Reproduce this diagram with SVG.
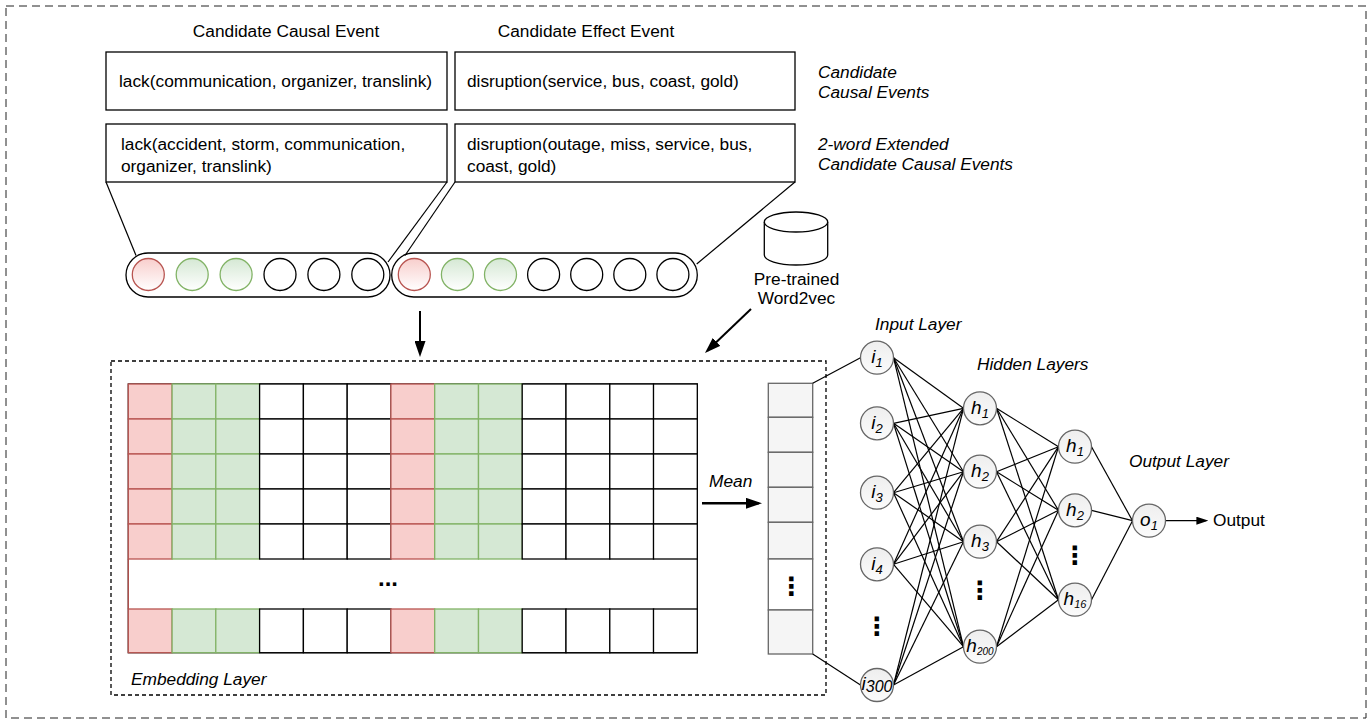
<svg xmlns="http://www.w3.org/2000/svg" width="1367" height="719" viewBox="0 0 1367 719">
<style>
text{font-family:"Liberation Sans",Arial,Helvetica,sans-serif;font-size:17.3px;fill:#000}
.it{font-style:italic}
.box{fill:#fff;stroke:#000;stroke-width:1.3}
.cap{fill:#fff;stroke:#000;stroke-width:1.3}
.cr{fill:url(#gr);stroke:#b85450;stroke-width:1.3}
.cg{fill:url(#gg);stroke:#82b366;stroke-width:1.3}
.cw{fill:#fff;stroke:#000;stroke-width:1.3}
.r{fill:#f8cecc;stroke:#b85450;stroke-width:1.3}
.g{fill:#d5e8d4;stroke:#82b366;stroke-width:1.3}
.w{fill:#fff;stroke:#000;stroke-width:1.3}
.mv{fill:#f5f5f5;stroke:#666;stroke-width:1.3}
.nn{fill:url(#gn);stroke:#666;stroke-width:1.3}
.ln{stroke:#000;stroke-width:1.2;fill:none}
.dots{font-family:"DejaVu Sans",sans-serif;font-weight:bold;font-size:25px}
.nl{font-style:italic;font-size:19px}
.sub{font-size:13px}
</style>
<defs>
<linearGradient id="gr" x1="0" y1="0" x2="0" y2="1"><stop offset="0" stop-color="#f8cecc"/><stop offset="1" stop-color="#ffffff"/></linearGradient>
<linearGradient id="gg" x1="0" y1="0" x2="0" y2="1"><stop offset="0" stop-color="#d5e8d4"/><stop offset="1" stop-color="#ffffff"/></linearGradient>
<linearGradient id="gn" x1="0" y1="0" x2="0" y2="1"><stop offset="0" stop-color="#eeeeee"/><stop offset="1" stop-color="#fbfbfb"/></linearGradient>
<marker id="ah" viewBox="0 0 10 10" refX="8" refY="5" markerWidth="16" markerHeight="11" markerUnits="userSpaceOnUse" orient="auto" preserveAspectRatio="none"><path d="M0,0 L10,5 L0,10 z" fill="#000"/></marker>
<marker id="ahs" viewBox="0 0 10 10" refX="8" refY="5" markerWidth="12" markerHeight="8" markerUnits="userSpaceOnUse" orient="auto" preserveAspectRatio="none"><path d="M0,0 L10,5 L0,10 z" fill="#000"/></marker>
</defs>
<rect x="6" y="6" width="1360" height="712" fill="#fff" stroke="#222" stroke-width="1" stroke-dasharray="8 5"/>

<g id="title-cause"><text x="286" y="36.5" text-anchor="middle">Candidate Causal Event</text></g>
<g id="title-effect"><text x="586" y="36.5" text-anchor="middle">Candidate Effect Event</text></g>

<g id="box-cause"><rect class="box" x="106" y="52" width="341" height="58"/><text x="119" y="87">lack(communication, organizer, translink)</text></g>
<g id="box-cause-ext"><rect class="box" x="106" y="124" width="341" height="58"/><text x="121" y="149.5">lack(accident, storm, communication,</text><text x="121" y="171.5">organizer, translink)</text></g>
<g id="box-effect"><rect class="box" x="455" y="52" width="340" height="58"/><text x="467" y="87">disruption(service, bus, coast, gold)</text></g>
<g id="box-effect-ext"><rect class="box" x="455" y="124" width="340" height="58"/><text x="467" y="149.5">disruption(outage, miss, service, bus,</text><text x="467" y="171.5">coast, gold)</text></g>

<g id="label-candidate"><text class="it" x="818" y="78">Candidate</text><text class="it" x="818" y="98">Causal Events</text></g>
<g id="label-extended"><text class="it" x="818" y="150">2-word Extended</text><text class="it" x="818" y="170">Candidate Causal Events</text></g>

<g id="capsule-cause">
<rect class="cap" x="126" y="253" width="264" height="44" rx="22"/>
<circle class="cr" cx="148.3" cy="274.5" r="16"/>
<circle class="cg" cx="192.2" cy="274.5" r="16"/>
<circle class="cg" cx="236.1" cy="274.5" r="16"/>
<circle class="cw" cx="280" cy="274.5" r="16"/>
<circle class="cw" cx="323.9" cy="274.5" r="16"/>
<circle class="cw" cx="367.8" cy="274.5" r="16"/>
</g>
<g id="capsule-effect">
<rect class="cap" x="391.7" y="253" width="305.6" height="44" rx="22"/>
<circle class="cr" cx="414.3" cy="274.5" r="16"/>
<circle class="cg" cx="457.4" cy="274.5" r="16"/>
<circle class="cg" cx="500.5" cy="274.5" r="16"/>
<circle class="cw" cx="543.6" cy="274.5" r="16"/>
<circle class="cw" cx="586.7" cy="274.5" r="16"/>
<circle class="cw" cx="629.8" cy="274.5" r="16"/>
<circle class="cw" cx="672.9" cy="274.5" r="16"/>
</g>

<g id="word2vec">
<path d="M764.3,222 L764.3,255 A31.7,10 0 0 0 827.7,255 L827.7,222" fill="#fff" stroke="#000" stroke-width="1.3"/>
<ellipse cx="796" cy="222" rx="31.7" ry="10" fill="#fff" stroke="#000" stroke-width="1.3"/>
<text x="796.5" y="285" text-anchor="middle">Pre-trained</text>
<text x="796.5" y="304" text-anchor="middle">Word2vec</text>
</g>

<g id="embedding-layer">
<rect x="111" y="361" width="715" height="334" fill="none" stroke="#000" stroke-width="1.3" stroke-dasharray="4 3"/>
<text class="it" x="131" y="685">Embedding Layer</text>
</g>

<g id="embedding-matrix">
<rect x="128.3" y="384" width="569" height="268.7" fill="#fff" stroke="#000" stroke-width="1.3"/>
<line x1="128.3" y1="559" x2="128.3" y2="609" stroke="#b85450" stroke-width="1.3"/>
<text x="388" y="586" text-anchor="middle" style="font-weight:bold;font-size:24px">...</text>
<g id="col0"><rect class="r" x="128.3" y="384" width="43.8" height="35"/><rect class="r" x="128.3" y="419" width="43.8" height="35"/><rect class="r" x="128.3" y="454" width="43.8" height="35"/><rect class="r" x="128.3" y="489" width="43.8" height="35"/><rect class="r" x="128.3" y="524" width="43.8" height="35"/><rect class="r" x="128.3" y="609" width="43.8" height="43.7"/></g>
<g id="col1"><rect class="g" x="172.1" y="384" width="43.8" height="35"/><rect class="g" x="172.1" y="419" width="43.8" height="35"/><rect class="g" x="172.1" y="454" width="43.8" height="35"/><rect class="g" x="172.1" y="489" width="43.8" height="35"/><rect class="g" x="172.1" y="524" width="43.8" height="35"/><rect class="g" x="172.1" y="609" width="43.8" height="43.7"/></g>
<g id="col2"><rect class="g" x="215.8" y="384" width="43.8" height="35"/><rect class="g" x="215.8" y="419" width="43.8" height="35"/><rect class="g" x="215.8" y="454" width="43.8" height="35"/><rect class="g" x="215.8" y="489" width="43.8" height="35"/><rect class="g" x="215.8" y="524" width="43.8" height="35"/><rect class="g" x="215.8" y="609" width="43.8" height="43.7"/></g>
<g id="col3"><rect class="w" x="259.6" y="384" width="43.8" height="35"/><rect class="w" x="259.6" y="419" width="43.8" height="35"/><rect class="w" x="259.6" y="454" width="43.8" height="35"/><rect class="w" x="259.6" y="489" width="43.8" height="35"/><rect class="w" x="259.6" y="524" width="43.8" height="35"/><rect class="w" x="259.6" y="609" width="43.8" height="43.7"/></g>
<g id="col4"><rect class="w" x="303.4" y="384" width="43.8" height="35"/><rect class="w" x="303.4" y="419" width="43.8" height="35"/><rect class="w" x="303.4" y="454" width="43.8" height="35"/><rect class="w" x="303.4" y="489" width="43.8" height="35"/><rect class="w" x="303.4" y="524" width="43.8" height="35"/><rect class="w" x="303.4" y="609" width="43.8" height="43.7"/></g>
<g id="col5"><rect class="w" x="347.2" y="384" width="43.8" height="35"/><rect class="w" x="347.2" y="419" width="43.8" height="35"/><rect class="w" x="347.2" y="454" width="43.8" height="35"/><rect class="w" x="347.2" y="489" width="43.8" height="35"/><rect class="w" x="347.2" y="524" width="43.8" height="35"/><rect class="w" x="347.2" y="609" width="43.8" height="43.7"/></g>
<g id="col6"><rect class="r" x="390.9" y="384" width="43.8" height="35"/><rect class="r" x="390.9" y="419" width="43.8" height="35"/><rect class="r" x="390.9" y="454" width="43.8" height="35"/><rect class="r" x="390.9" y="489" width="43.8" height="35"/><rect class="r" x="390.9" y="524" width="43.8" height="35"/><rect class="r" x="390.9" y="609" width="43.8" height="43.7"/></g>
<g id="col7"><rect class="g" x="434.7" y="384" width="43.8" height="35"/><rect class="g" x="434.7" y="419" width="43.8" height="35"/><rect class="g" x="434.7" y="454" width="43.8" height="35"/><rect class="g" x="434.7" y="489" width="43.8" height="35"/><rect class="g" x="434.7" y="524" width="43.8" height="35"/><rect class="g" x="434.7" y="609" width="43.8" height="43.7"/></g>
<g id="col8"><rect class="g" x="478.5" y="384" width="43.8" height="35"/><rect class="g" x="478.5" y="419" width="43.8" height="35"/><rect class="g" x="478.5" y="454" width="43.8" height="35"/><rect class="g" x="478.5" y="489" width="43.8" height="35"/><rect class="g" x="478.5" y="524" width="43.8" height="35"/><rect class="g" x="478.5" y="609" width="43.8" height="43.7"/></g>
<g id="col9"><rect class="w" x="522.2" y="384" width="43.8" height="35"/><rect class="w" x="522.2" y="419" width="43.8" height="35"/><rect class="w" x="522.2" y="454" width="43.8" height="35"/><rect class="w" x="522.2" y="489" width="43.8" height="35"/><rect class="w" x="522.2" y="524" width="43.8" height="35"/><rect class="w" x="522.2" y="609" width="43.8" height="43.7"/></g>
<g id="col10"><rect class="w" x="566" y="384" width="43.8" height="35"/><rect class="w" x="566" y="419" width="43.8" height="35"/><rect class="w" x="566" y="454" width="43.8" height="35"/><rect class="w" x="566" y="489" width="43.8" height="35"/><rect class="w" x="566" y="524" width="43.8" height="35"/><rect class="w" x="566" y="609" width="43.8" height="43.7"/></g>
<g id="col11"><rect class="w" x="609.8" y="384" width="43.8" height="35"/><rect class="w" x="609.8" y="419" width="43.8" height="35"/><rect class="w" x="609.8" y="454" width="43.8" height="35"/><rect class="w" x="609.8" y="489" width="43.8" height="35"/><rect class="w" x="609.8" y="524" width="43.8" height="35"/><rect class="w" x="609.8" y="609" width="43.8" height="43.7"/></g>
<g id="col12"><rect class="w" x="653.5" y="384" width="43.8" height="35"/><rect class="w" x="653.5" y="419" width="43.8" height="35"/><rect class="w" x="653.5" y="454" width="43.8" height="35"/><rect class="w" x="653.5" y="489" width="43.8" height="35"/><rect class="w" x="653.5" y="524" width="43.8" height="35"/><rect class="w" x="653.5" y="609" width="43.8" height="43.7"/></g>
</g>

<g id="mean-label"><text class="it" x="730.7" y="487" text-anchor="middle">Mean</text></g>

<g id="mean-vector">
<rect class="mv" x="768.3" y="383.3" width="44.4" height="34"/>
<rect class="mv" x="768.3" y="417.3" width="44.4" height="35"/>
<rect class="mv" x="768.3" y="452.3" width="44.4" height="35"/>
<rect class="mv" x="768.3" y="487.3" width="44.4" height="35"/>
<rect class="mv" x="768.3" y="522.3" width="44.4" height="36.7"/>
<rect x="768.3" y="559" width="44.4" height="51" fill="#fff" stroke="#666" stroke-width="1.3"/>
<rect class="mv" x="768.3" y="610" width="44.4" height="44"/>
<text class="dots" x="791.5" y="595" text-anchor="middle">⋮</text>
</g>

<g id="labels-nn">
<text class="it" x="875" y="330">Input Layer</text>
<text class="it" x="977" y="370">Hidden Layers</text>
<text class="it" x="1129" y="467">Output Layer</text>
<text x="1213" y="526">Output</text>
</g>

<g id="connectors">
<line class="ln" x1="106" y1="182" x2="136" y2="255.5"/>
<line class="ln" x1="447" y1="182" x2="388" y2="262"/>
<line class="ln" x1="455" y1="182" x2="405" y2="255.5"/>
<line class="ln" x1="795" y1="182" x2="696.7" y2="264"/>
<line x1="420" y1="311" x2="420" y2="353.8" stroke="#000" stroke-width="2" marker-end="url(#ah)"/>
<line x1="751" y1="309" x2="707.3" y2="350.8" stroke="#000" stroke-width="2" marker-end="url(#ah)"/>
<line x1="702" y1="503.3" x2="758.8" y2="503.3" stroke="#000" stroke-width="2.6" marker-end="url(#ah)"/>
<line x1="1165.5" y1="520.7" x2="1206" y2="520.7" stroke="#000" stroke-width="1.3" marker-end="url(#ahs)"/>
<line class="ln" x1="812.7" y1="383.3" x2="860.5" y2="357.7"/>
<line class="ln" x1="812.7" y1="654" x2="860.5" y2="685"/>
<line class="ln" x1="893.5" y1="357.7" x2="963.5" y2="408.3"/>
<line class="ln" x1="893.5" y1="357.7" x2="963.5" y2="471.7"/>
<line class="ln" x1="893.5" y1="357.7" x2="963.5" y2="541.7"/>
<line class="ln" x1="893.5" y1="357.7" x2="963.5" y2="646.7"/>
<line class="ln" x1="893.5" y1="423.3" x2="963.5" y2="408.3"/>
<line class="ln" x1="893.5" y1="423.3" x2="963.5" y2="471.7"/>
<line class="ln" x1="893.5" y1="423.3" x2="963.5" y2="541.7"/>
<line class="ln" x1="893.5" y1="423.3" x2="963.5" y2="646.7"/>
<line class="ln" x1="893.5" y1="492.7" x2="963.5" y2="408.3"/>
<line class="ln" x1="893.5" y1="492.7" x2="963.5" y2="471.7"/>
<line class="ln" x1="893.5" y1="492.7" x2="963.5" y2="541.7"/>
<line class="ln" x1="893.5" y1="492.7" x2="963.5" y2="646.7"/>
<line class="ln" x1="893.5" y1="564.3" x2="963.5" y2="408.3"/>
<line class="ln" x1="893.5" y1="564.3" x2="963.5" y2="471.7"/>
<line class="ln" x1="893.5" y1="564.3" x2="963.5" y2="541.7"/>
<line class="ln" x1="893.5" y1="564.3" x2="963.5" y2="646.7"/>
<line class="ln" x1="893.5" y1="685" x2="963.5" y2="408.3"/>
<line class="ln" x1="893.5" y1="685" x2="963.5" y2="471.7"/>
<line class="ln" x1="893.5" y1="685" x2="963.5" y2="541.7"/>
<line class="ln" x1="893.5" y1="685" x2="963.5" y2="646.7"/>
<line class="ln" x1="996.5" y1="408.3" x2="1058.5" y2="446.7"/>
<line class="ln" x1="996.5" y1="408.3" x2="1058.5" y2="510.3"/>
<line class="ln" x1="996.5" y1="408.3" x2="1058.5" y2="599.7"/>
<line class="ln" x1="996.5" y1="471.7" x2="1058.5" y2="446.7"/>
<line class="ln" x1="996.5" y1="471.7" x2="1058.5" y2="510.3"/>
<line class="ln" x1="996.5" y1="471.7" x2="1058.5" y2="599.7"/>
<line class="ln" x1="996.5" y1="541.7" x2="1058.5" y2="446.7"/>
<line class="ln" x1="996.5" y1="541.7" x2="1058.5" y2="510.3"/>
<line class="ln" x1="996.5" y1="541.7" x2="1058.5" y2="599.7"/>
<line class="ln" x1="996.5" y1="646.7" x2="1058.5" y2="446.7"/>
<line class="ln" x1="996.5" y1="646.7" x2="1058.5" y2="510.3"/>
<line class="ln" x1="996.5" y1="646.7" x2="1058.5" y2="599.7"/>
<line class="ln" x1="1091.5" y1="446.7" x2="1132.5" y2="520.7"/>
<line class="ln" x1="1091.5" y1="510.3" x2="1132.5" y2="520.7"/>
<line class="ln" x1="1091.5" y1="599.7" x2="1132.5" y2="520.7"/>
</g>

<g id="node-i1"><circle class="nn" cx="877" cy="357.7" r="16.5"/><text class="nl" x="877" y="363" text-anchor="middle">i<tspan class="sub" dy="4">1</tspan></text></g>
<g id="node-i2"><circle class="nn" cx="877" cy="423.3" r="16.5"/><text class="nl" x="877" y="428.6" text-anchor="middle">i<tspan class="sub" dy="4">2</tspan></text></g>
<g id="node-i3"><circle class="nn" cx="877" cy="492.7" r="16.5"/><text class="nl" x="877" y="498" text-anchor="middle">i<tspan class="sub" dy="4">3</tspan></text></g>
<g id="node-i4"><circle class="nn" cx="877" cy="564.3" r="16.5"/><text class="nl" x="877" y="569.6" text-anchor="middle">i<tspan class="sub" dy="4">4</tspan></text></g>
<g id="dots-input"><text class="dots" x="877" y="635" text-anchor="middle">⋮</text></g>
<g id="node-i300"><circle class="nn" cx="877" cy="685" r="16.5"/><text class="nl" x="877" y="690.3" text-anchor="middle">i<tspan dy="2" style="font-size:16px">300</tspan></text></g>

<g id="node-h1a"><circle class="nn" cx="980" cy="408.3" r="16.5"/><text class="nl" x="980" y="413.6" text-anchor="middle">h<tspan class="sub" dy="4">1</tspan></text></g>
<g id="node-h2a"><circle class="nn" cx="980" cy="471.7" r="16.5"/><text class="nl" x="980" y="477" text-anchor="middle">h<tspan class="sub" dy="4">2</tspan></text></g>
<g id="node-h3a"><circle class="nn" cx="980" cy="541.7" r="16.5"/><text class="nl" x="980" y="547" text-anchor="middle">h<tspan class="sub" dy="4">3</tspan></text></g>
<g id="dots-hidden1"><text class="dots" x="980" y="599" text-anchor="middle">⋮</text></g>
<g id="node-h200"><circle class="nn" cx="980" cy="646.7" r="16.5"/><text class="nl" x="980" y="652" text-anchor="middle">h<tspan dy="3" style="font-size:10px">200</tspan></text></g>

<g id="node-h1b"><circle class="nn" cx="1075" cy="446.7" r="16.5"/><text class="nl" x="1075" y="452" text-anchor="middle">h<tspan class="sub" dy="4">1</tspan></text></g>
<g id="node-h2b"><circle class="nn" cx="1075" cy="510.3" r="16.5"/><text class="nl" x="1075" y="515.6" text-anchor="middle">h<tspan class="sub" dy="4">2</tspan></text></g>
<g id="dots-hidden2"><text class="dots" x="1075" y="564" text-anchor="middle">⋮</text></g>
<g id="node-h16"><circle class="nn" cx="1075" cy="599.7" r="16.5"/><text class="nl" x="1075" y="605" text-anchor="middle">h<tspan dy="3" style="font-size:11px">16</tspan></text></g>

<g id="node-o1"><circle class="nn" cx="1149" cy="520.7" r="16.5"/><text class="nl" x="1149" y="526" text-anchor="middle">o<tspan class="sub" dy="4">1</tspan></text></g>
</svg>
